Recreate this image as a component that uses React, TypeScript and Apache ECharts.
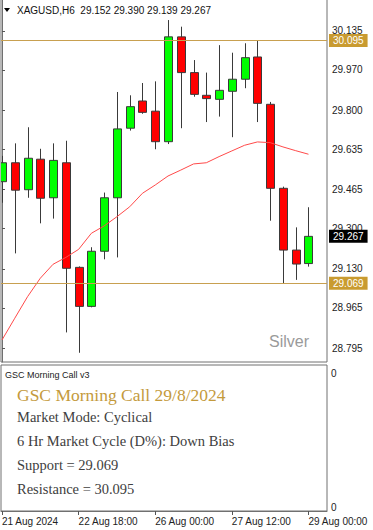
import React, { useEffect, useRef } from "react";
import * as echarts from "echarts";

// ---- data ----
const symbolName = "XAGUSD,H6";
const times = [
  "21 Aug 06:00", "21 Aug 12:00", "21 Aug 18:00", "22 Aug 00:00", "22 Aug 06:00",
  "22 Aug 12:00", "22 Aug 18:00", "23 Aug 00:00", "23 Aug 06:00", "23 Aug 12:00",
  "23 Aug 18:00", "25 Aug 18:00", "26 Aug 00:00", "26 Aug 06:00", "26 Aug 12:00",
  "26 Aug 18:00", "27 Aug 00:00", "27 Aug 06:00", "27 Aug 12:00", "27 Aug 18:00",
  "28 Aug 00:00", "28 Aug 06:00", "28 Aug 12:00", "28 Aug 18:00", "29 Aug 00:00",
];
const opens = [29.498, 29.578, 29.464, 29.593, 29.43, 29.578, 29.136, 28.971, 29.204, 29.43, 29.724, 29.839, 29.796, 29.667, 30.11, 29.959, 29.863, 29.846, 29.88, 29.931, 30.025, 29.825, 29.47, 29.209, 29.152];
const highs = [29.607, 29.66, 29.728, 29.637, 29.66, 29.671, 29.14, 29.221, 29.452, 29.877, 29.863, 29.915, 29.922, 30.181, 30.153, 30.012, 29.959, 30.075, 30.043, 30.083, 30.095, 29.835, 29.477, 29.305, 29.39];
const lows = [29.409, 29.195, 29.43, 29.322, 29.342, 28.861, 28.775, 28.967, 29.17, 29.178, 29.714, 29.785, 29.635, 29.657, 29.724, 29.857, 29.75, 29.773, 29.686, 29.893, 29.75, 29.333, 29.069, 29.083, 29.139];
const closes = [29.578, 29.462, 29.597, 29.428, 29.588, 29.132, 28.971, 29.204, 29.43, 29.721, 29.815, 29.791, 29.667, 30.11, 29.959, 29.867, 29.849, 29.884, 29.931, 30.022, 29.829, 29.47, 29.209, 29.15, 29.267];
const maValues = [28.829, 28.921, 29.012, 29.09, 29.149, 29.178, 29.212, 29.28, 29.311, 29.35, 29.392, 29.449, 29.484, 29.522, 29.547, 29.573, 29.578, 29.604, 29.628, 29.652, 29.666, 29.663, 29.645, 29.629, 29.614];
const yTickValues = [30.135, 29.97, 29.8, 29.635, 29.465, 29.3, 29.13, 28.965, 28.795];
const xTickIndex = [0, 6, 12, 18, 24];
const xTickLabels = ["21 Aug 2024", "22 Aug 18:00", "26 Aug 00:00", "27 Aug 12:00", "29 Aug 00:00"];
const support = 29.069;
const resistance = 30.095;
const panelTitle = "GSC Morning Call v3";
const callTitle = "GSC Morning Call 29/8/2024";
const panelLines = [
  "Market Mode: Cyclical",
  "6 Hr Market Cycle (D%): Down Bias",
  `Support = ${support.toFixed(3)}`,
  `Resistance = ${resistance.toFixed(3)}`,
];
const watermark = "Silver";

const SANS = "'Liberation Sans', Arial, sans-serif";
const SERIF = "'Liberation Serif', 'Times New Roman', serif";
const GOLD = "#C99B30";

export default function App() {
  const ref = useRef<HTMLDivElement>(null);
  useEffect(() => {
    if (!ref.current) return;
    const chart = echarts.init(ref.current, null, { renderer: "svg" });
    const last = closes.length - 1;
    const header = `${symbolName}  ${opens[last].toFixed(3)} ${highs[last].toFixed(3)} ${lows[last].toFixed(3)} ${closes[last].toFixed(3)}`;
    const X_MIN = -0.078;
    const X_MAX = 25.45;

    const candleData = times.map((t, i) => [i, opens[i], closes[i], lows[i], highs[i]]);

    const option: any = {
      animation: false,
      backgroundColor: "#ffffff",
      grid: [
        { left: 1, right: 46, top: -1, height: 363, show: true, borderColor: "#707070", borderWidth: 1, backgroundColor: "transparent", outerBoundsMode: "none", containLabel: false },
        { left: 1, right: 46, top: 365, height: 146, show: true, borderColor: "#707070", borderWidth: 1, backgroundColor: "transparent", outerBoundsMode: "none", containLabel: false },
      ],
      xAxis: [
        { type: "value", gridIndex: 0, min: X_MIN, max: X_MAX, show: false, splitLine: { show: false } },
        {
          type: "value", gridIndex: 1, min: X_MIN, max: X_MAX,
          axisLine: { show: true, lineStyle: { color: "#707070" } },
          axisTick: { show: true, customValues: xTickIndex, length: 4, lineStyle: { color: "#555" } },
          axisLabel: {
            customValues: xTickIndex,
            formatter: (v: number) => xTickLabels[xTickIndex.indexOf(Math.round(v))] ?? "",
            align: "left", margin: 5, fontSize: 10, fontFamily: SANS, color: "#222",
          },
          splitLine: { show: false },
        },
      ],
      yAxis: [
        {
          type: "value", gridIndex: 0, position: "right", min: 28.736, max: 30.27,
          axisLine: { show: true, lineStyle: { color: "#707070" } },
          axisTick: { show: true, customValues: yTickValues, length: 3, lineStyle: { color: "#555" } },
          axisLabel: {
            customValues: yTickValues,
            formatter: (v: number) => v.toFixed(3),
            margin: 5, fontSize: 10, fontFamily: SANS, color: "#222",
          },
          splitLine: { show: false },
        },
        {
          type: "value", gridIndex: 1, position: "right", min: 0, max: 1,
          axisLine: { show: false }, axisTick: { show: false },
          axisLabel: { customValues: [0.027, 0.945], formatter: () => "0", margin: 4, fontSize: 10, fontFamily: SANS, color: "#222" },
          splitLine: { show: false },
        },
      ],
      series: [
        {
          type: "custom",
          xAxisIndex: 0,
          yAxisIndex: 0,
          clip: true,
          data: candleData,
          encode: { x: 0, y: [1, 2, 3, 4] },
          renderItem: (params: any, api: any) => {
            const x = api.value(0);
            const o = api.value(1);
            const c = api.value(2);
            const l = api.value(3);
            const h = api.value(4);
            const pO = api.coord([x, o]);
            const pC = api.coord([x, c]);
            const pL = api.coord([x, l]);
            const pH = api.coord([x, h]);
            const bw = Math.max(3, Math.round(api.size([1, 0])[0] * 0.62));
            const cx = Math.round(pO[0]) + 0.5;
            const top = Math.min(pO[1], pC[1]);
            const hgt = Math.max(1, Math.abs(pO[1] - pC[1]));
            const up = c >= o;
            return {
              type: "group",
              children: [
                { type: "line", shape: { x1: cx, y1: pH[1], x2: cx, y2: pL[1] }, style: { stroke: "#3a3a3a", lineWidth: 1 } },
                {
                  type: "rect",
                  shape: { x: cx - bw / 2, y: top, width: bw, height: hgt },
                  style: { fill: up ? "#00ff00" : "#ff0000", stroke: "#3a3a3a", lineWidth: 1 },
                },
              ],
            };
          },
        },
        {
          type: "line",
          xAxisIndex: 0,
          yAxisIndex: 0,
          clip: false,
          showSymbol: false,
          symbol: "none",
          data: maValues.map((v, i) => [i, v]),
          lineStyle: { color: "#ff4a4a", width: 1 },
          z: 3,
          markLine: {
            symbol: ["none", "none"],
            silent: true,
            animation: false,
            precision: 3,
            label: {
              show: true, position: "end", distance: 2,
              formatter: (p: any) => Number(p.value).toFixed(3),
              color: "#ffffff", fontSize: 10, fontFamily: SANS,
              padding: [2, 4, 1, 4],
            },
            data: [
              { yAxis: resistance, lineStyle: { color: "#C8A050", width: 1, type: "solid" }, label: { backgroundColor: GOLD } },
              { yAxis: support, lineStyle: { color: "#C8A050", width: 1, type: "solid" }, label: { backgroundColor: GOLD } },
              { yAxis: closes[last], lineStyle: { color: "rgba(0,0,0,0)", width: 1, type: "solid" }, label: { backgroundColor: "#000000" } },
            ],
          },
        },
      ],
      graphic: [
        { type: "polygon", shape: { points: [[4, 8], [10, 8], [7, 12]] }, style: { fill: "#000" }, silent: true },
        { type: "text", x: 17, y: 10, style: { text: header, font: `10px ${SANS}`, fill: "#111", textVerticalAlign: "middle" }, silent: true },
        { type: "text", x: 309, y: 341, style: { text: watermark, font: `16px ${SANS}`, fill: "#9a9a9a", textAlign: "right", textVerticalAlign: "middle" }, silent: true },
        { type: "text", x: 5, y: 375, style: { text: panelTitle, font: `9px ${SANS}`, fill: "#222", textVerticalAlign: "middle" }, silent: true },
        { type: "text", x: 17, y: 395, style: { text: callTitle, font: `17.5px ${SERIF}`, fill: "#C49A3C", textVerticalAlign: "middle" }, silent: true },
        ...panelLines.map((t, i) => ({
          type: "text", x: 17, y: 417 + i * 24,
          style: { text: t, font: `14.5px ${SERIF}`, fill: "#404040", textVerticalAlign: "middle" }, silent: true,
        })),
      ],
    };
    chart.setOption(option);
    return () => chart.dispose();
  }, []);
  return <div ref={ref} style={{ position: "absolute", left: 0, top: 0, width: 373, height: 530 }} />;
}
